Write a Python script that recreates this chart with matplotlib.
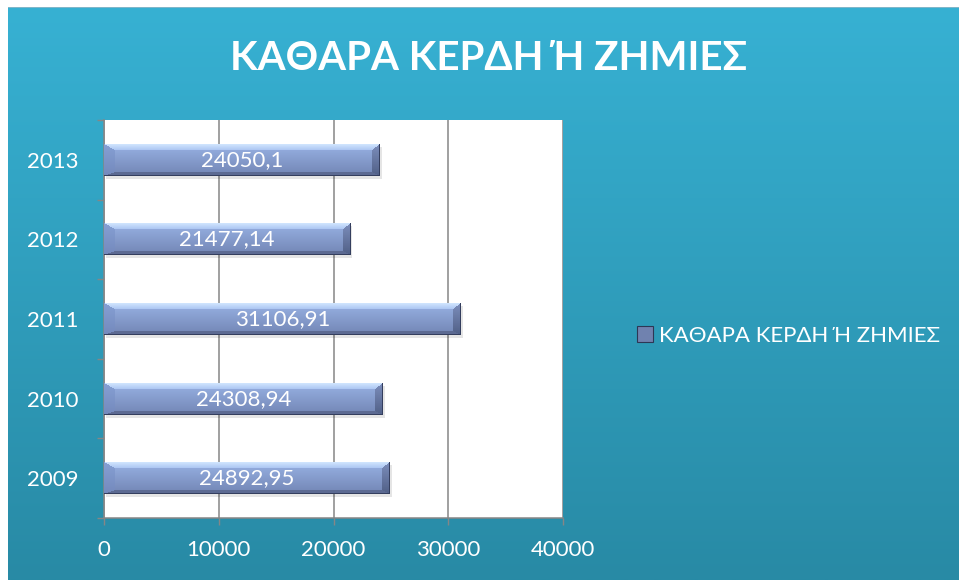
import matplotlib

matplotlib.use("Agg", force=True)

import matplotlib.pyplot as plt
import matplotlib.transforms as mtransforms
import numpy as np
from matplotlib.patches import Rectangle, Patch
from matplotlib.ticker import FixedLocator

years = ["2009", "2010", "2011", "2012", "2013"]
profits = [24892.95, 24308.94, 31106.91, 21477.14, 24050.1]
value_labels = ["24892,95", "24308,94", "31106,91", "21477,14", "24050,1"]
x_ticks = [0, 10000, 20000, 30000, 40000]
title = "ΚΑΘΑΡΑ ΚΕΡΔΗ Ή ΖΗΜΙΕΣ"
series_name = "ΚΑΘΑΡΑ ΚΕΡΔΗ Ή ΖΗΜΙΕΣ"

FONT = ["Lato", "DejaVu Sans"]
GRID = "#868686"
DPI = 100
W_PX, H_PX = 959, 580

plt.rcParams["font.family"] = FONT


def rgb(*c):
    return np.array(c, dtype=float) / 255.0


def bevel_image(w, h, bt=6, bb=4, bl=11, br=8):
    """Pyramid-bevel bar texture, shape (h, w, 3)."""
    w = max(int(round(w)), 2)
    h = max(int(round(h)), 2)
    U, V = np.meshgrid(np.arange(w) + 0.5, np.arange(h) + 0.5)
    t = (V / h)[..., None]
    img = rgb(152, 178, 228) * (1 - t) + rgb(114, 133, 180) * t
    d = np.stack([V / bt, (h - V) / bb, U / bl, (w - U) / br])
    side = d.argmin(axis=0)
    inside = d.min(axis=0) < 1
    s = np.clip(V / bt, 0, 1)[..., None]
    top = rgb(210, 230, 255) * (1 - s) + rgb(172, 198, 242) * s
    r = (V / h)[..., None]
    right_c = rgb(124, 142, 188) * (1 - r) + rgb(80, 95, 134) * r
    left_c = rgb(134, 160, 212) * (1 - r) + rgb(116, 137, 188) * r
    for k, c in enumerate([top, np.broadcast_to(rgb(92, 106, 146), img.shape), left_c, right_c]):
        mask = inside & (side == k)
        img[mask] = c[mask]
    img[-1, :] = rgb(52, 62, 94)
    img[:, -1] = rgb(52, 62, 94)
    return img


fig = plt.figure(figsize=(W_PX / DPI, H_PX / DPI), dpi=DPI)
fig.patch.set_facecolor("white")

# teal gradient background
bg = fig.add_axes([8 / W_PX, 0, 1 - 8 / W_PX, 1 - 7 / H_PX], zorder=-10)
grad = np.linspace(0, 1, 256)[:, None, None]
bg_img = rgb(55, 177, 211) * (1 - grad) + rgb(40, 138, 165) * grad
bg.imshow(bg_img, aspect="auto", extent=(0, 1, 0, 1), origin="upper")
bg.set_axis_off()
bg.axhline(1, color="#8fb8c8", lw=1.2)

left, right, top, bottom = 104, 563, 120, 518
ax = fig.add_axes([left / W_PX, 1 - bottom / H_PX, (right - left) / W_PX, (bottom - top) / H_PX])
ax.set_facecolor("white")

bar_h = 0.4
ypos = np.arange(len(years))
px_per_x = (right - left) / 40000
px_per_y = (bottom - top) / len(years)

shadow = mtransforms.offset_copy(ax.transData, fig=fig, x=2, y=-3, units="dots")
for y, val, lab in zip(ypos, profits, value_labels):
    ax.add_patch(Rectangle((0, y - bar_h / 2), val, bar_h, transform=shadow,
                           facecolor="#000000", alpha=0.10, lw=0, zorder=2))
    img = bevel_image(val * px_per_x, bar_h * px_per_y)
    ax.imshow(img, extent=(0, val, y - bar_h / 2, y + bar_h / 2), aspect="auto",
              origin="upper", zorder=3, interpolation="nearest")
    ax.text(val / 2, y, lab, ha="center", va="center", color="white",
            fontsize=16, zorder=4)
ax.set_aspect("auto")
ax.set_xlim(0, 40000)
ax.set_ylim(-0.5, len(years) - 0.5)

ax.set_xticks(x_ticks)
ax.set_xticklabels([str(t) for t in x_ticks])
ax.set_yticks(ypos)
ax.set_yticklabels(years)
ax.yaxis.set_minor_locator(FixedLocator(np.arange(-0.5, len(years), 1.0)))
ax.tick_params(axis="y", which="major", length=0, pad=18, labelsize=16, labelcolor="white")
ax.tick_params(axis="y", which="minor", length=5, width=1, color=GRID, direction="out")
ax.tick_params(axis="x", length=5, width=1, color=GRID, direction="out", pad=11,
               labelsize=16, labelcolor="white")
ax.grid(axis="x", color=GRID, lw=1.1, zorder=1)
ax.set_axisbelow(True)
for s in ("top", "right"):
    ax.spines[s].set_visible(False)
for s in ("left", "bottom"):
    ax.spines[s].set_color(GRID)
    ax.spines[s].set_linewidth(1.1)

fig.text(489 / W_PX, 1 - 59 / H_PX, title, ha="center", va="center",
         fontsize=29, fontweight="bold", color="white")

handle = Patch(facecolor=rgb(112, 130, 175), edgecolor=rgb(45, 55, 85), lw=0.8)
leg = fig.legend([handle], [series_name], loc="center left",
                 bbox_to_anchor=(637 / W_PX, 1 - 336 / H_PX), frameon=False,
                 fontsize=16, labelcolor="white", handlelength=0.7, handleheight=0.7,
                 handletextpad=0.3, borderpad=0, borderaxespad=0)

fig.savefig("out.png", dpi=DPI)
